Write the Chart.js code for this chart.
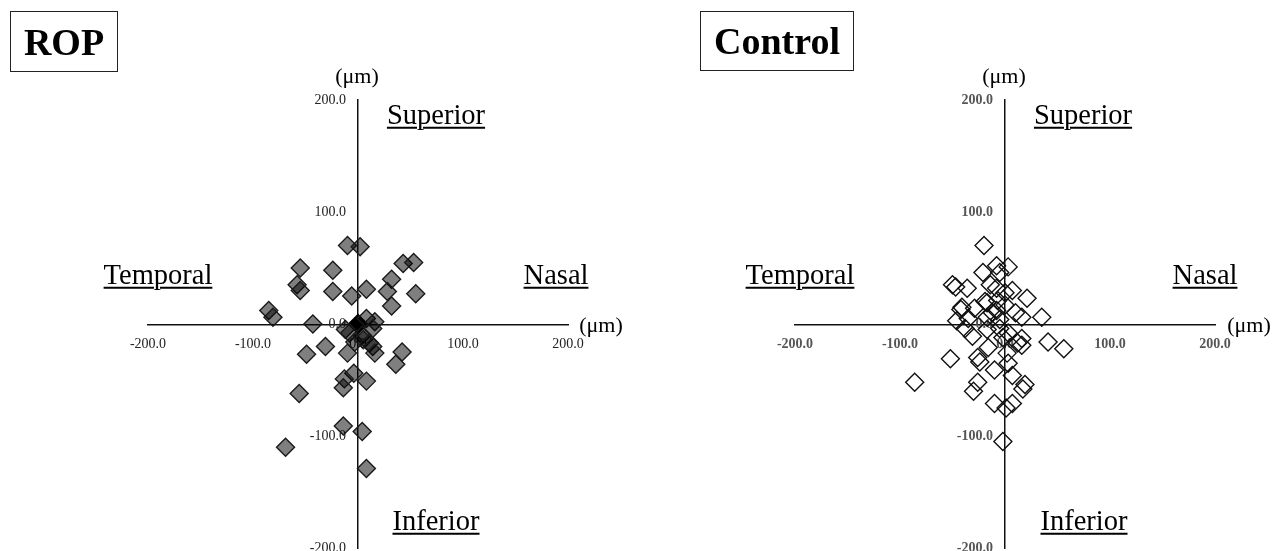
<!DOCTYPE html>
<html>
<head>
<meta charset="utf-8">
<script src="https://cdn.jsdelivr.net/npm/chart.js@4.4.1/dist/chart.umd.min.js"></script>
<style>
  html, body { margin: 0; padding: 0; background: #fff; }
  body { width: 1273px; height: 551px; position: relative; overflow: hidden; font-family: "Liberation Serif", "Times New Roman", serif; color: #000; }
  .wrap { position: absolute; top: 0; height: 590px; }
  .box { position: absolute; border: 1.5px solid #222; box-sizing: border-box; font-weight: bold; font-size: 38px; display: flex; align-items: center; justify-content: center; }
  .lbl { position: absolute; transform: translate(-50%, -50%); white-space: nowrap; line-height: 1; }
  .dir { font-size: 28.5px; text-decoration: underline; text-decoration-thickness: 1.5px; text-underline-offset: 3px; }
  .unit { font-size: 22px; }
</style>
</head>
<body>
<div class="wrap" style="left:0;width:640px;"><canvas id="ropChart"></canvas></div>
<div class="wrap" style="left:640px;width:633px;"><canvas id="ctrlChart"></canvas></div>

<div class="box" style="left:10px;top:11px;width:108px;height:61px;">ROP</div>
<div class="box" style="left:700px;top:11px;width:154px;height:60px;">Control</div>

<div class="lbl unit" style="left:357px;top:76px;">(μm)</div>
<div class="lbl unit" style="left:601px;top:325px;">(μm)</div>
<div class="lbl dir" style="left:436px;top:115px;">Superior</div>
<div class="lbl dir" style="left:158px;top:275px;">Temporal</div>
<div class="lbl dir" style="left:556px;top:275px;">Nasal</div>
<div class="lbl dir" style="left:436px;top:521px;">Inferior</div>

<div class="lbl unit" style="left:1004px;top:76px;">(μm)</div>
<div class="lbl unit" style="left:1249px;top:325px;">(μm)</div>
<div class="lbl dir" style="left:1083px;top:115px;">Superior</div>
<div class="lbl dir" style="left:800px;top:275px;">Temporal</div>
<div class="lbl dir" style="left:1205px;top:275px;">Nasal</div>
<div class="lbl dir" style="left:1084px;top:521px;">Inferior</div>

<script>
// ---- data (μm) ----
const tickValues = [-200, -100, 0, 100, 200];

const ropX = [-10, 2, -55, -24, 43, 53, -58, -55, -24, -6, 8, 32, 28, 32, 55, -85, -81, -43, 8, 16, 14, -12, -8, 4, -3, 5, 11, 14, 16, -31, -10, -49, 42, 36, -4, -13, -14, 8, -56, -14, 4, -69, 8];
const ropY = [70, 69, 50, 48, 54, 55, 35, 30, 29, 25, 31, 40, 29, 16, 27, 12, 6, 0, 5, 2, -4, -5, -8, -10, -16, -14, -17, -20, -26, -20, -26, -27, -25, -36, -44, -49, -57, -51, -62, -91, -96, -110, -129];

const ropCenterX = [0];
const ropCenterY = [0];

const ctrlX = [-20, -8, 3, -5, -21, -50, -47, -36, -14, -8, 7, 0, 21, -19, -17, -7, -41, -42, -29, -8, 0, 10, 16, 35, -46, -35, -17, -5, -38, -31, -17, -5, 3, 16, 41, 56, -52, -16, -26, -24, 2, -86, -10, 3, 7, -26, -30, 19, 17, -10, 7, 1, -2, 12, 16, -12, -2];
const ctrlY = [70, 52, 51, 46, 46, 35, 33, 32, 35, 32, 30, 28, 23, 20, 19, 21, 15, 13, 14, 12, 17, 10, 6, 6, 3, 5, 6, 4, -4, -11, -5, -4, -8, -13, -16, -22, -31, -21, -30, -34, -26, -52, -41, -35, -46, -52, -60, -54, -58, -71, -71, -75, -105, -17, -19, 10, -12];

function pts(xs, ys) { return xs.map((x, i) => ({ x: x, y: ys[i] })); }

function axis(tickFont, tickColor) {
  return {
    type: 'linear',
    position: 'center',
    min: -200,
    max: 200,
    grid: { display: false, drawTicks: false },
    border: { display: true, color: '#111', width: 1.5 },
    afterBuildTicks: (s) => { s.ticks = tickValues.map(v => ({ value: v })); },
    ticks: {
      padding: 12,
      autoSkip: false,
      maxRotation: 0,
      font: tickFont,
      color: tickColor,
      callback: (v) => Number(v).toFixed(1)
    }
  };
}

function makeChart(id, datasets, target, tickFont, tickColor) {
  const pad = { left: target.left, right: 20, top: target.top, bottom: 20 };
  const chart = new Chart(document.getElementById(id), {
    type: 'scatter',
    data: { datasets: datasets },
    options: {
      responsive: true,
      maintainAspectRatio: false,
      animation: false,
      layout: { padding: Object.assign({}, pad) },
      plugins: { legend: { display: false }, tooltip: { enabled: false } },
      scales: {
        x: axis(tickFont, tickColor),
        y: axis(tickFont, tickColor)
      }
    }
  });
  // fit the plotting area to the desired frame (layout only)
  for (let i = 0; i < 4; i++) {
    const a = chart.chartArea;
    pad.left += target.left - a.left;
    pad.top += target.top - a.top;
    pad.right += a.right - target.right;
    pad.bottom += a.bottom - target.bottom;
    chart.options.layout.padding = Object.assign({}, pad);
    chart.update('none');
  }
  return chart;
}

const serif = '"Liberation Serif", "Times New Roman", serif';

makeChart('ropChart', [
  {
    data: pts(ropX, ropY),
    pointStyle: 'rectRot',
    pointRadius: 9,
    backgroundColor: 'rgba(0,0,0,0.5)',
    borderColor: '#1a1a1a',
    borderWidth: 1.4
  },
  {
    data: pts(ropCenterX, ropCenterY),
    pointStyle: 'rectRot',
    pointRadius: 9.5,
    backgroundColor: '#000',
    borderColor: '#000',
    borderWidth: 1.4
  }
], { left: 148, right: 568, top: 100, bottom: 548 }, { family: serif, size: 14 }, '#222');

makeChart('ctrlChart', [
  {
    data: pts(ctrlX, ctrlY),
    pointStyle: 'rectRot',
    pointRadius: 9,
    backgroundColor: 'rgba(255,255,255,0)',
    borderColor: '#111',
    borderWidth: 1.4
  }
], { left: 155, right: 575, top: 100, bottom: 548 }, { family: serif, size: 14, weight: 'bold' }, '#555');
</script>
</body>
</html>
